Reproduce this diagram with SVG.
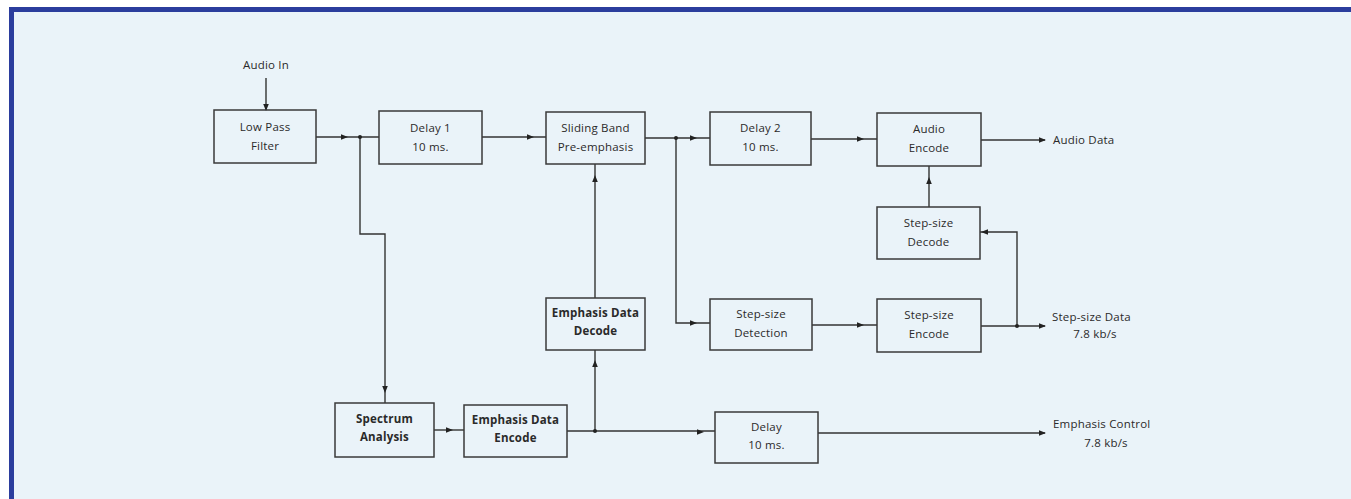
<svg xmlns="http://www.w3.org/2000/svg" width="1351" height="499" viewBox="0 0 1351 499">
  <style>
    .box { fill: none; stroke: #3a3a3a; stroke-width: 1.5; }
    .ln { fill: none; stroke: #333; stroke-width: 1.4; }
    .t { font-family: "Open Sans", "Liberation Sans", sans-serif; font-size: 11.5px; fill: #2a2a2a; text-anchor: middle; letter-spacing: 0.2px; }
    .b { font-weight: bold; }
    .lbl { font-family: "Open Sans", "Liberation Sans", sans-serif; font-size: 11.5px; fill: #2a2a2a; letter-spacing: 0.2px; }
    .ah { fill: #222; }
    .dot { fill: #222; }
  </style>
  <defs>
    <path id="ah" d="M-6,-2.8 L1,0 L-6,2.8 z"/>
  </defs>
  <rect x="0" y="0" width="1351" height="499" fill="#ffffff"/>
  <rect x="9" y="7" width="1342" height="492" fill="#eaf3f9"/>
  <rect x="9" y="7" width="1342" height="5" fill="#2b3d9d"/>
  <rect x="9" y="7" width="5" height="492" fill="#2b3d9d"/>

  <g id="connectors">
    <path class="ln" d="M266,78 V110"/>
    <path class="ln" d="M316,137 H379"/>
    <path class="ln" d="M360,137 V234 H385 V403"/>
    <path class="ln" d="M482,137 H546"/>
    <path class="ln" d="M645,138 H710"/>
    <path class="ln" d="M676,138 V323 H710"/>
    <path class="ln" d="M811,139 H877"/>
    <path class="ln" d="M981,140 H1045"/>
    <path class="ln" d="M929,207 V166"/>
    <path class="ln" d="M812,325 H877"/>
    <path class="ln" d="M981,326 H1045"/>
    <path class="ln" d="M1017,326 V232 H980"/>
    <path class="ln" d="M434,430 H464"/>
    <path class="ln" d="M567,431 H715"/>
    <path class="ln" d="M595,431 V350"/>
    <path class="ln" d="M595,298 V164"/>
    <path class="ln" d="M818,433 H1045"/>

    <g class="ah">
      <use href="#ah" transform="translate(266,110) rotate(90)"/>
      <use href="#ah" transform="translate(347,137)"/>
      <use href="#ah" transform="translate(533,137)"/>
      <use href="#ah" transform="translate(696,138)"/>
      <use href="#ah" transform="translate(863,139)"/>
      <use href="#ah" transform="translate(1045,140)"/>
      <use href="#ah" transform="translate(929,178) rotate(-90)"/>
      <use href="#ah" transform="translate(982,232) rotate(180)"/>
      <use href="#ah" transform="translate(696,323)"/>
      <use href="#ah" transform="translate(863,325)"/>
      <use href="#ah" transform="translate(1045,326)"/>
      <use href="#ah" transform="translate(385,392) rotate(90)"/>
      <use href="#ah" transform="translate(452,430)"/>
      <use href="#ah" transform="translate(703,432)"/>
      <use href="#ah" transform="translate(595,361) rotate(-90)"/>
      <use href="#ah" transform="translate(595,176) rotate(-90)"/>
      <use href="#ah" transform="translate(1045,433)"/>
    </g>
    <g class="dot">
      <circle cx="360" cy="137" r="2"/>
      <circle cx="676" cy="138" r="2"/>
      <circle cx="1017" cy="326" r="2"/>
      <circle cx="595" cy="431" r="2"/>
    </g>
  </g>

  <g id="audio-in"><text class="t" x="266" y="69">Audio In</text></g>

  <g id="low-pass-filter">
    <rect class="box" x="214" y="110" width="102" height="53"/>
    <text class="t" x="265" y="131">Low Pass</text>
    <text class="t" x="265" y="150">Filter</text>
  </g>
  <g id="delay-1">
    <rect class="box" x="379" y="111" width="103" height="53"/>
    <text class="t" x="430.5" y="132">Delay 1</text>
    <text class="t" x="430.5" y="151">10 ms.</text>
  </g>
  <g id="sliding-band">
    <rect class="box" x="546" y="112" width="99" height="52"/>
    <text class="t" x="595.5" y="132">Sliding Band</text>
    <text class="t" x="595.5" y="151">Pre-emphasis</text>
  </g>
  <g id="delay-2">
    <rect class="box" x="710" y="112" width="101" height="53"/>
    <text class="t" x="760.5" y="132">Delay 2</text>
    <text class="t" x="760.5" y="151">10 ms.</text>
  </g>
  <g id="audio-encode">
    <rect class="box" x="877" y="113" width="104" height="53"/>
    <text class="t" x="929" y="133">Audio</text>
    <text class="t" x="929" y="152">Encode</text>
  </g>
  <g id="audio-data"><text class="lbl" x="1053" y="144">Audio Data</text></g>

  <g id="step-size-decode">
    <rect class="box" x="877" y="207" width="103" height="52"/>
    <text class="t" x="928.5" y="227">Step-size</text>
    <text class="t" x="928.5" y="246">Decode</text>
  </g>
  <g id="step-size-detection">
    <rect class="box" x="710" y="299" width="102" height="51"/>
    <text class="t" x="761" y="318">Step-size</text>
    <text class="t" x="761" y="337">Detection</text>
  </g>
  <g id="step-size-encode">
    <rect class="box" x="877" y="299" width="104" height="53"/>
    <text class="t" x="929" y="319">Step-size</text>
    <text class="t" x="929" y="338">Encode</text>
  </g>
  <g id="step-size-data">
    <text class="lbl" x="1052" y="321">Step-size Data</text>
    <text class="t" x="1095" y="338">7.8 kb/s</text>
  </g>

  <g id="emphasis-data-decode">
    <rect class="box" x="546" y="298" width="99" height="52"/>
    <text class="t b" x="595.5" y="317">Emphasis Data</text>
    <text class="t b" x="595.5" y="335">Decode</text>
  </g>
  <g id="spectrum-analysis">
    <rect class="box" x="335" y="403" width="99" height="54"/>
    <text class="t b" x="384.5" y="423">Spectrum</text>
    <text class="t b" x="384.5" y="441">Analysis</text>
  </g>
  <g id="emphasis-data-encode">
    <rect class="box" x="464" y="405" width="103" height="52"/>
    <text class="t b" x="515.5" y="424">Emphasis Data</text>
    <text class="t b" x="515.5" y="442">Encode</text>
  </g>
  <g id="delay-10">
    <rect class="box" x="715" y="412" width="103" height="51"/>
    <text class="t" x="766.5" y="431">Delay</text>
    <text class="t" x="766.5" y="449">10 ms.</text>
  </g>
  <g id="emphasis-control">
    <text class="lbl" x="1053" y="428">Emphasis Control</text>
    <text class="t" x="1106" y="447">7.8 kb/s</text>
  </g>
</svg>
